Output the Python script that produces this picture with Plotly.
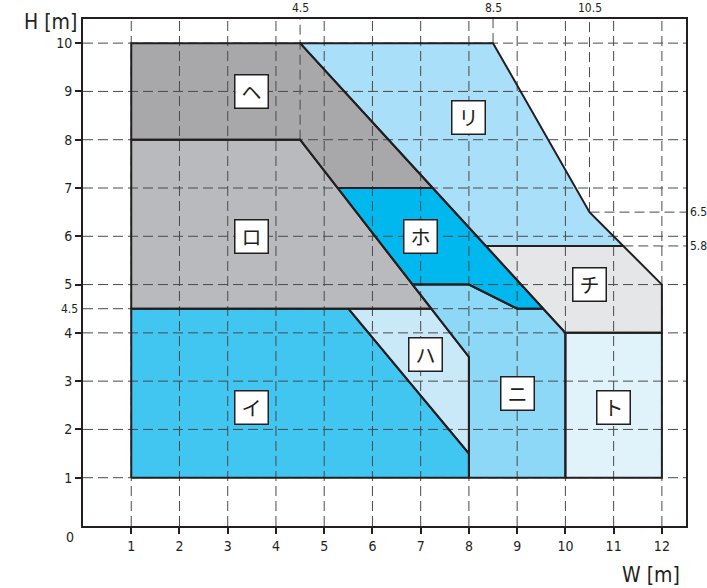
"""Pump selection chart: W-H application ranges."""

import plotly.graph_objects as go

# region outlines (W [m], H [m])
REGION_NAMES = ["イ", "ロ", "ハ", "ニ", "ホ", "ヘ", "ト", "チ", "リ"]
REGION_W = {
    "イ": [1, 8, 8, 5.5, 1],
    "ロ": [1, 1, 4.5, 7.22],
    "ハ": [5.5, 7.22, 8, 8],
    "ニ": [8, 10, 10, 9.54, 9, 8, 6.83, 7.22, 8],
    "ホ": [5.28, 7.25, 9.54, 9, 8, 6.83],
    "ヘ": [1, 1, 4.5, 7.25, 5.28, 4.5],
    "ト": [10, 12, 12, 10],
    "チ": [10, 12, 12, 11.2, 8.35, 9.54],
    "リ": [4.5, 8.5, 10.5, 11.2, 8.35],
}
REGION_H = {
    "イ": [1, 1, 1.5, 4.5, 4.5],
    "ロ": [4.5, 8, 8, 4.5],
    "ハ": [4.5, 4.5, 3.5, 1.5],
    "ニ": [1, 1, 4, 4.5, 4.5, 5, 5, 4.5, 3.5],
    "ホ": [7, 7, 4.5, 4.5, 5, 5],
    "ヘ": [8, 10, 10, 7, 7, 8],
    "ト": [1, 1, 4, 4],
    "チ": [4, 4, 5, 5.8, 5.8, 4.5],
    "リ": [10, 10, 6.5, 5.8, 5.8],
}
REGION_COLORS = {
    "イ": "#41c6f2",
    "ロ": "#b9babd",
    "ハ": "#c9e9f8",
    "ニ": "#8dd8f6",
    "ホ": "#00b8ee",
    "ヘ": "#a8a8ab",
    "ト": "#e0f3fb",
    "チ": "#e5e6e8",
    "リ": "#a9dff9",
}
LABEL_W = {"イ": 3.5, "ロ": 3.5, "ハ": 7.1, "ニ": 9.0, "ホ": 7.0,
           "ヘ": 3.5, "ト": 11.0, "チ": 10.5, "リ": 8.0}
LABEL_H = {"イ": 2.45, "ロ": 6.0, "ハ": 3.55, "ニ": 2.75, "ホ": 6.0,
           "ヘ": 9.0, "ト": 2.45, "チ": 5.0, "リ": 8.45}

X_TICKS = list(range(1, 13))
Y_TICKS = list(range(1, 11))
X_MAX = 12.5
Y_MAX = 10.5

# extra dimension guides: value, start, end
X_GUIDES = [(4.5, 8, Y_MAX), (8.5, 10, Y_MAX), (10.5, 6.5, Y_MAX)]
Y_GUIDES = [(4.5, 0, 9), (6.5, 10.5, X_MAX), (5.8, 11.2, X_MAX)]
TOP_LABELS = ["4.5", "8.5", "10.5"]
RIGHT_LABELS = ["6.5", "5.8"]
LEFT_LABELS = ["4.5"]

LINE = "#231f20"
GRID = "#4a4a4a"
NUM_FONT = "Liberation Sans Narrow, DejaVu Sans Condensed, Roboto, sans-serif"
JP_FONT = "Noto Sans CJK JP"

fig = go.Figure()

for name in REGION_NAMES:
    xs = REGION_W[name] + REGION_W[name][:1]
    ys = REGION_H[name] + REGION_H[name][:1]
    fig.add_trace(go.Scatter(
        x=xs, y=ys, mode="lines", fill="toself",
        fillcolor=REGION_COLORS[name], line=dict(width=0),
        hoverinfo="skip", showlegend=False,
    ))

# dashed grid drawn over the fills
gx, gy = [], []
for v in X_TICKS:
    gx += [v, v, None]
    gy += [0, Y_MAX, None]
for v in Y_TICKS:
    gx += [0, X_MAX, None]
    gy += [v, v, None]
for v, a, b in X_GUIDES:
    gx += [v, v, None]
    gy += [a, b, None]
for v, a, b in Y_GUIDES:
    gx += [a, b, None]
    gy += [v, v, None]
fig.add_trace(go.Scatter(
    x=gx, y=gy, mode="lines",
    line=dict(color=GRID, width=1, dash="10px,5px"),
    hoverinfo="skip", showlegend=False,
))

for name in REGION_NAMES:
    xs = REGION_W[name] + REGION_W[name][:1]
    ys = REGION_H[name] + REGION_H[name][:1]
    fig.add_trace(go.Scatter(
        x=xs, y=ys, mode="lines", line=dict(color=LINE, width=2),
        hoverinfo="skip", showlegend=False,
    ))

for name in REGION_NAMES:
    fig.add_annotation(
        x=LABEL_W[name], y=LABEL_H[name], text=name, showarrow=False,
        font=dict(family=JP_FONT, size=20, color=LINE),
        bgcolor="white", bordercolor=LINE, borderwidth=1.5,
        width=32, height=32, borderpad=0,
    )

for (v, _, _), txt in zip(X_GUIDES, TOP_LABELS):
    fig.add_annotation(x=v, y=1, xref="x", yref="paper", text=txt,
                       showarrow=False, xanchor="center", yanchor="bottom",
                       yshift=2, font=dict(family=NUM_FONT, size=12, color=LINE))
for (v, _, _), txt in zip(Y_GUIDES[1:], RIGHT_LABELS):
    fig.add_annotation(x=1, y=v, xref="paper", yref="y", text=txt,
                       showarrow=False, xanchor="left", yanchor="middle",
                       xshift=2, font=dict(family=NUM_FONT, size=12, color=LINE))
for (v, _, _), txt in zip(Y_GUIDES[:1], LEFT_LABELS):
    fig.add_annotation(x=0, y=v, xref="paper", yref="y", text=txt,
                       showarrow=False, xanchor="right", yanchor="middle",
                       xshift=-3, font=dict(family=NUM_FONT, size=12, color=LINE))

corner_text = [("0", -13, -11, 14), ("H [m]", -33, 504, 21), ("W [m]", 568, -49, 21)]
for txt, dx, dy, size in corner_text:
    fig.add_annotation(x=0, y=0, xref="paper", yref="paper", text=txt,
                       showarrow=False, xanchor="center", yanchor="middle",
                       xshift=dx, yshift=dy,
                       font=dict(family=NUM_FONT, size=size, color=LINE))

axis_style = dict(
    showgrid=False, zeroline=False, showline=True, mirror=True,
    linecolor=LINE, linewidth=2, ticks="outside", ticklen=6,
    tickcolor=LINE, tickwidth=1.5,
    tickfont=dict(family=NUM_FONT, size=14, color=LINE),
)
fig.update_xaxes(range=[0, X_MAX], tickvals=X_TICKS, **axis_style)
fig.update_yaxes(range=[0, Y_MAX], tickvals=Y_TICKS, **axis_style)

fig.update_layout(
    width=707, height=588,
    margin=dict(l=83, r=21, t=19, b=62),
    plot_bgcolor="white", paper_bgcolor="white",
)

# the page body has a default 8px margin; drop it so the figure fills the window
fig.write_html(
    "out.html",
    config={"displayModeBar": False},
    post_script="document.body.style.margin = '0';",
)
